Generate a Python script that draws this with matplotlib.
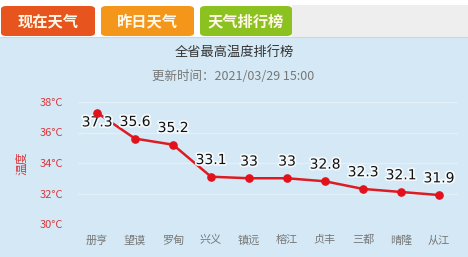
import matplotlib
matplotlib.use("Agg")
import matplotlib.pyplot as plt
import matplotlib.patheffects as pe
from matplotlib.patches import FancyBboxPatch, Rectangle

plt.rcParams['font.family'] = ['Noto Sans CJK SC', 'DejaVu Sans']

cities = ["册亨", "望谟", "罗甸", "兴义", "镇远", "榕江", "贞丰", "三都", "晴隆", "从江"]
temps = [37.3, 35.6, 35.2, 33.1, 33.0, 33.0, 32.8, 32.3, 32.1, 31.9]
y_ticks = [30, 32, 34, 36, 38]
tabs = ["现在天气", "昨日天气", "天气排行榜"]
title = "全省最高温度排行榜"
subtitle = "更新时间：2021/03/29 15:00"

W, H = 468, 257
fig = plt.figure(figsize=(W / 100, H / 100), dpi=100)
fig.patch.set_facecolor("white")


def fx(px):
    return px / W


def fy(py):
    return 1 - py / H


# panel background and tab bar
fig.add_artist(Rectangle((0, 0), 1, fy(37), transform=fig.transFigure,
                         facecolor="#d4e9f5", edgecolor="none", zorder=0))
fig.add_artist(Rectangle((fx(292), fy(37)), 1, fy(5) - fy(37), transform=fig.transFigure,
                         facecolor="#eeeeee", edgecolor="none", zorder=0))
fig.add_artist(plt.Line2D([0, 1], [fy(37), fy(37)], transform=fig.transFigure,
                          color="#c8d8e2", lw=0.8, zorder=1))

tab_colors = ["#e8541e", "#f3961a", "#8cc220"]
tab_x = [(1, 95), (101, 194), (200, 292)]
for (x0, x1), c, t in zip(tab_x, tab_colors, tabs):
    box = FancyBboxPatch((fx(x0), fy(36)), fx(x1 - x0), fy(6) - fy(36),
                         boxstyle="round,pad=0,rounding_size=0.012",
                         transform=fig.transFigure, facecolor=c, edgecolor="none",
                         zorder=2)
    fig.add_artist(box)
    fig.text(fx((x0 + x1) / 2), fy(21), t, ha="center", va="center",
             color="#fff8e6", fontsize=11, fontweight="bold", zorder=3)

fig.text(fx(234), fy(52), title, ha="center", va="center", fontsize=9.5, color="#333333")
fig.text(fx(233), fy(77), subtitle, ha="center", va="center", fontsize=9, color="#777777")

# chart area
ax = fig.add_axes([fx(78), fy(224), fx(458) - fx(78), fy(102) - fy(224)])
ax.set_facecolor("none")
x = list(range(len(cities)))
ax.set_xlim(-0.5, len(cities) - 0.5)
ax.set_ylim(30, 38)
ax.set_yticks(y_ticks)
ax.set_yticklabels([f"{v}°C" for v in y_ticks], color="#d9363e", fontsize=8)
ax.set_xticks(x)
ax.set_xticklabels(cities, color="#777777", fontsize=8)
ax.tick_params(axis="both", length=0)
ax.tick_params(axis="y", pad=11)
ax.tick_params(axis="x", pad=8)
for s in ax.spines.values():
    s.set_visible(False)
ax.grid(axis="y", color="#e4f0f8", lw=0.9)
ax.set_axisbelow(True)

ax.plot(x, temps, color="#dc1c22", lw=1.8, zorder=3, clip_on=False)

halo = [pe.withStroke(linewidth=2.5, foreground="#f4f9fc")]
for i, v in enumerate(temps):
    label = f"{v:g}"
    dy = -7 if i == 0 else 12
    ax.annotate(label, (i, v), xytext=(0, dy), textcoords="offset points",
                ha="center", va="center", fontsize=10, color="#111111", zorder=4,
                family="DejaVu Sans", path_effects=halo)

# markers sit above the labels
ax.plot(x, temps, linestyle="none", marker="o", markersize=5.2,
        markerfacecolor="#e3111b", markeredgecolor="#e3111b", zorder=5, clip_on=False)

fig.text(fx(22), fy(163), "温度", rotation=90, ha="center", va="center",
         color="#d9363e", fontsize=8.5)

fig.savefig("out.png", dpi=100)
